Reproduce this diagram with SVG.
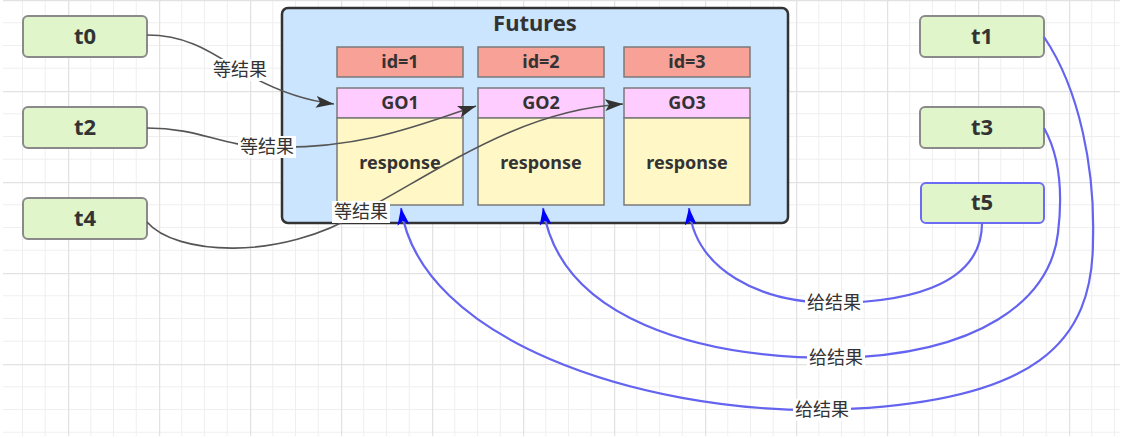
<svg xmlns="http://www.w3.org/2000/svg" width="1145" height="438" viewBox="0 0 1145 438">
<defs>
<pattern id="grid" x="68" y="0" width="91" height="91" patternUnits="userSpaceOnUse">
<path d="M22.75 0V91M45.5 0V91M68.25 0V91M0 22.75H91M0 45.5H91M0 68.25H91" stroke="#efefef" stroke-width="1" fill="none"/>
<path d="M0.5 0V91M0 0.5H91" stroke="#e2e2e2" stroke-width="1.5" fill="none"/>
</pattern>
<marker id="ag" viewBox="0 0 18 12" refX="18" refY="6" markerWidth="18" markerHeight="12" markerUnits="userSpaceOnUse" orient="auto">
<path d="M0 0L18 6L0 12L4 6Z" fill="#333"/>
</marker>
<marker id="ab" viewBox="0 0 17 12" refX="17" refY="6" markerWidth="17" markerHeight="12" markerUnits="userSpaceOnUse" orient="auto">
<path d="M0 0L17 6L0 12L4 6Z" fill="#0000ff"/>
</marker>
</defs>
<style>
.node{fill:#e0f5ca;stroke:#8a8a8a;stroke-width:2}
.nt{font-family:"Noto Sans","DejaVu Sans",sans-serif;font-weight:bold;font-size:22px;fill:#333;text-anchor:middle}
.bt{font-family:"Noto Sans","DejaVu Sans",sans-serif;font-weight:bold;font-size:18px;fill:#333;text-anchor:middle}
.id{fill:#f8a196;stroke:#7a7a7a;stroke-width:1.5}
.go{fill:#ffccff;stroke:#7a7a7a;stroke-width:1.5}
.resp{fill:#fff8c6;stroke:#7a7a7a;stroke-width:1.5}
.g{fill:none;stroke:#555;stroke-width:1.6}
.b{fill:none;stroke:#6464f0;stroke-width:2.2}
.lb{fill:#fff}
.lt{font-family:"Noto Sans CJK SC","Noto Sans",sans-serif;font-size:18px;fill:#333;text-anchor:middle}
</style>
<rect x="0" y="0" width="1145" height="438" fill="#fff"/>
<rect x="3" y="0" width="1117" height="436" fill="url(#grid)"/>

<g id="futures">
<rect x="282" y="8" width="506" height="215" rx="6" fill="#cce5ff" stroke="#333" stroke-width="2.5"/>
<text class="nt" x="535" y="31">Futures</text>
</g>
<g id="slot1">
<rect class="id" x="337" y="47" width="126" height="30"/>
<text class="bt" x="400" y="68">id=1</text>
<rect class="go" x="337" y="88" width="126" height="30"/>
<text class="bt" x="400" y="109">GO1</text>
<rect class="resp" x="337" y="118" width="126" height="87"/>
<text class="bt" x="400" y="169">response</text>
</g>
<g id="slot2">
<rect class="id" x="478" y="47" width="126" height="30"/>
<text class="bt" x="541" y="68">id=2</text>
<rect class="go" x="478" y="88" width="126" height="30"/>
<text class="bt" x="541" y="109">GO2</text>
<rect class="resp" x="478" y="118" width="126" height="87"/>
<text class="bt" x="541" y="169">response</text>
</g>
<g id="slot3">
<rect class="id" x="624" y="47" width="126" height="30"/>
<text class="bt" x="687" y="68">id=3</text>
<rect class="go" x="624" y="88" width="126" height="30"/>
<text class="bt" x="687" y="109">GO3</text>
<rect class="resp" x="624" y="118" width="126" height="87"/>
<text class="bt" x="687" y="169">response</text>
</g>

<g id="t0"><rect class="node" x="23" y="16" width="124" height="41" rx="5"/><text class="nt" x="85" y="44">t0</text></g>
<g id="t2"><rect class="node" x="23" y="107" width="124" height="41" rx="5"/><text class="nt" x="85" y="135">t2</text></g>
<g id="t4"><rect class="node" x="23" y="198" width="124" height="41" rx="5"/><text class="nt" x="85" y="226">t4</text></g>
<g id="t1"><rect class="node" x="920" y="16" width="124" height="41" rx="5"/><text class="nt" x="982" y="44">t1</text></g>
<g id="t3"><rect class="node" x="920" y="107" width="124" height="41" rx="5"/><text class="nt" x="982" y="135">t3</text></g>
<g id="t5"><rect class="node" x="921" y="183" width="123" height="40" rx="5" style="stroke:#6b6bf5"/><text class="nt" x="982" y="210">t5</text></g>

<g id="connectors">
<path class="g" d="M147 35C190 35 215 55 240 70C270 88 300 100 334 104" marker-end="url(#ag)"/>
<path class="g" d="M147 128C200 128 220 146 267 147C360 150 420 125 476 106" marker-end="url(#ag)"/>
<path class="g" d="M147 222C175 255 280 262 361 212C440 170 520 110 623 104" marker-end="url(#ag)"/>
<path class="b" d="M1044 37C1080 90 1095 170 1093 240C1093 340 1040 405 822 410C640 412 420 340 401 208" marker-end="url(#ab)"/>
<path class="b" d="M1044 128C1062 160 1062 200 1058 233C1050 300 980 355 836 358C700 358 560 320 543 208" marker-end="url(#ab)"/>
<path class="b" d="M982 223C982 280 920 302 834 303C760 303 695 270 689 208" marker-end="url(#ab)"/>
<rect class="lb" x="211" y="59" width="58" height="22"/>
<text class="lt" x="240" y="76">等结果</text>
<rect class="lb" x="238" y="136" width="58" height="22"/>
<text class="lt" x="267" y="153">等结果</text>
<rect class="lb" x="332" y="201" width="58" height="22"/>
<text class="lt" x="361" y="218">等结果</text>
<rect class="lb" x="805" y="292" width="58" height="22"/>
<text class="lt" x="834" y="309">给结果</text>
<rect class="lb" x="807" y="347" width="58" height="22"/>
<text class="lt" x="836" y="364">给结果</text>
<rect class="lb" x="793" y="399" width="58" height="22"/>
<text class="lt" x="822" y="416">给结果</text>
</g>
</svg>
